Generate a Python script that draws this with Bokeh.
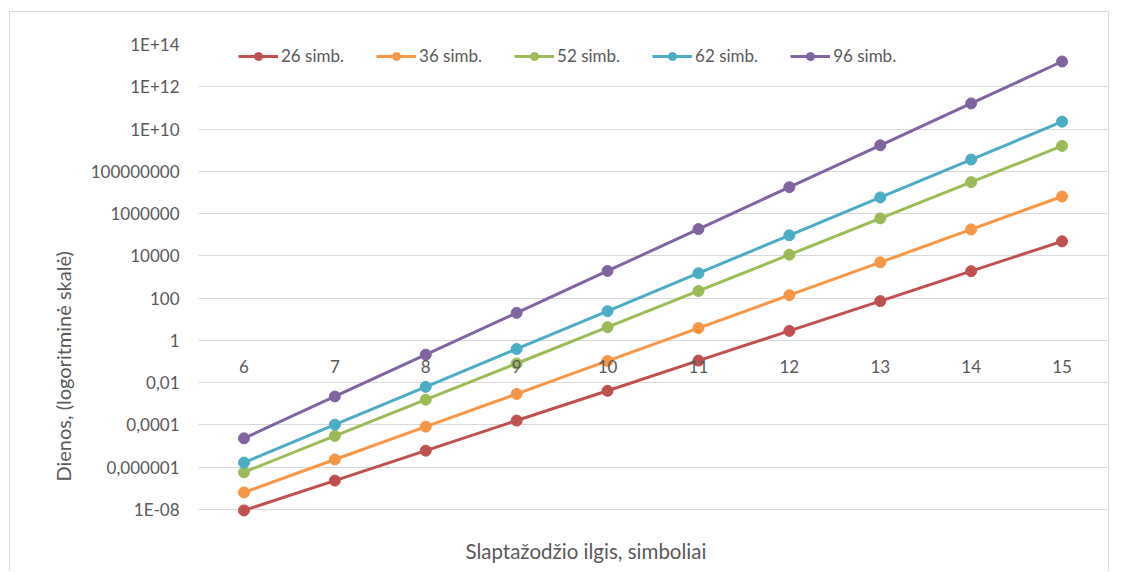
from bokeh.plotting import figure
from bokeh.models import (Range1d, FixedTicker, CustomJSTickFormatter, Legend,
                          LegendItem, Title, FactorRange)
from bokeh.embed import file_html
from bokeh.resources import INLINE

# ---- data ----
lengths = ["6", "7", "8", "9", "10", "11", "12", "13", "14", "15"]
series_names = ["26 simb.", "36 simb.", "52 simb.", "62 simb.", "96 simb."]
days_26 = [8.9e-9, 2.3e-7, 6.0e-6, 1.6e-4, 4.1e-3, 0.11, 2.8, 72, 1870, 48500]
days_36 = [6.3e-8, 2.3e-6, 8.2e-5, 2.9e-3, 0.106, 3.8, 137, 4900, 1.78e5, 6.4e6]
days_52 = [5.7e-7, 3.0e-5, 1.55e-3, 0.080, 4.2, 217, 1.13e4, 5.9e5, 3.06e7, 1.59e9]
days_62 = [1.64e-6, 1.02e-4, 6.3e-3, 0.39, 24, 1500, 9.3e4, 5.8e6, 3.6e8, 2.23e10]
days_96 = [2.3e-5, 2.2e-3, 0.21, 20, 1920, 1.85e5, 1.77e7, 1.70e9, 1.63e11, 1.57e13]
y_ticks = [1e-8, 1e-6, 1e-4, 1e-2, 1, 1e2, 1e4, 1e6, 1e8, 1e10, 1e12, 1e14]
y_tick_labels = ["1E-08", "0,000001", "0,0001", "0,01", "1", "100", "10000",
                 "1000000", "100000000", "1E+10", "1E+12", "1E+14"]
x_title = "Slaptažodžio ilgis, simboliai"
y_title = "Dienos, (logoritminė skalė)"

colors = ["#C0504D", "#F79646", "#9BBB59", "#4BACC6", "#8064A2"]
FONT = "Lato"
TXT = "#595959"

p = figure(width=1100, height=560, x_range=FactorRange(*lengths, range_padding=0),
           y_axis_type="log", y_range=Range1d(1e-9, 1e14),
           output_backend="svg", toolbar_location=None,
           min_border_left=188, min_border_right=3, min_border_top=32,
           min_border_bottom=42,
           styles={"border-left": "1px solid #d9d9d9", "border-top": "1px solid #d9d9d9",
                   "border-right": "1px solid #d9d9d9", "margin": "11px 0 0 9px"})
p.outline_line_color = None
p.xgrid.grid_line_color = None
p.ygrid.grid_line_color = "#d9d9d9"
p.ygrid.grid_line_width = 1

p.yaxis.ticker = FixedTicker(ticks=y_ticks, minor_ticks=[])
p.yaxis.formatter = CustomJSTickFormatter(args=dict(yt=y_ticks, yl=y_tick_labels), code="""
let best = 0, bd = Infinity;
for (let i = 0; i < yt.length; i++) {
  const d = Math.abs(Math.log10(yt[i]) - Math.log10(tick));
  if (d < bd) { bd = d; best = i; }
}
return yl[best];
""")
for ax in (p.xaxis[0], p.yaxis[0]):
    ax.axis_line_color = None
    ax.major_tick_line_color = None
    ax.minor_tick_line_color = None
    ax.major_label_text_font = FONT
    ax.major_label_text_font_size = "17px"
    ax.major_label_text_color = TXT
p.yaxis.major_label_standoff = 13
p.xaxis.fixed_location = 1
p.xaxis.major_label_standoff = 14

all_series = [days_26, days_36, days_52, days_62, days_96]
items = []
for name, ys, c in zip(series_names, all_series, colors):
    ln = p.line(x=lengths, y=ys, line_color=c, line_width=3)
    sc = p.scatter(x=lengths, y=ys, marker="circle", size=11, fill_color=c, line_color=c)
    items.append(LegendItem(label=name, renderers=[ln, sc]))

legend = Legend(items=items, orientation="horizontal", location=(40, 464),
                glyph_width=40, glyph_height=20, label_standoff=3, spacing=32,
                padding=0, margin=0, border_line_color=None, background_fill_alpha=0,
                label_text_font=FONT, label_text_font_size="17px", label_text_color=TXT)
p.add_layout(legend)

p.add_layout(Title(text=x_title, align="left", offset=267, standoff=14,
                   vertical_align="middle",
                   text_font=FONT, text_font_size="20.5px", text_color=TXT,
                   text_font_style="normal"), "below")
p.add_layout(Title(text=y_title, align="left", offset=49, standoff=25,
                   text_font=FONT, text_font_size="20px", text_color=TXT,
                   text_font_style="normal"), "left")

open("out.html", "w").write(file_html(p, INLINE))
